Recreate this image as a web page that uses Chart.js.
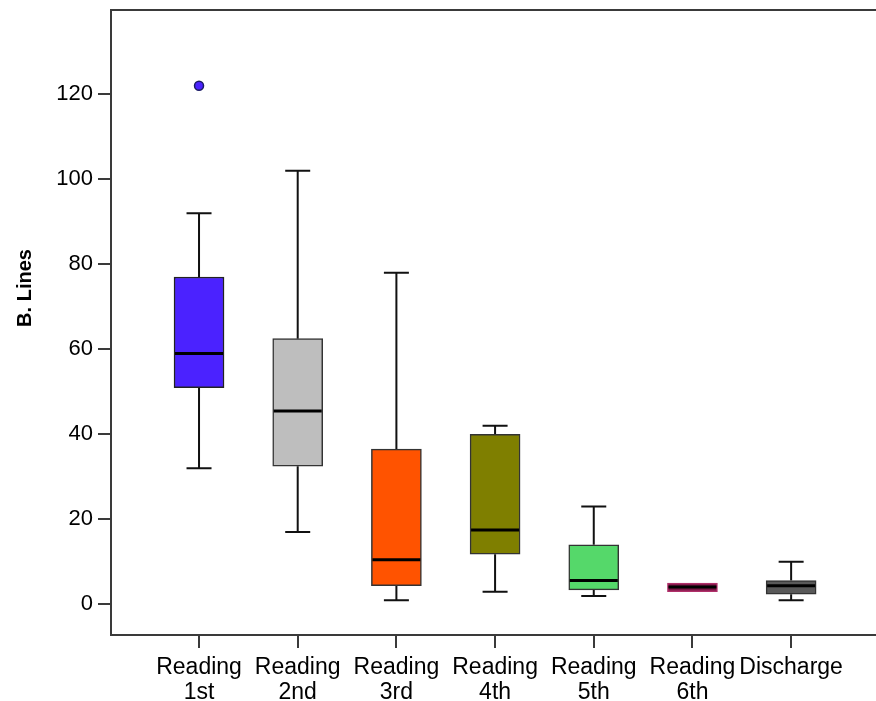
<!DOCTYPE html>
<html>
<head>
<meta charset="utf-8">
<title>B. Lines</title>
<script src="https://cdn.jsdelivr.net/npm/chart.js@4.4.1/dist/chart.umd.min.js"></script>
<style>
  html, body { margin: 0; padding: 0; background: #fff; }
  canvas { display: block; }
</style>
</head>
<body>
<canvas id="chart1" width="876" height="701"></canvas>
<script>
// box plot values
const categories = ["Reading 1st", "Reading 2nd", "Reading 3rd", "Reading 4th", "Reading 5th", "Reading 6th", "Discharge"];
const whiskerLow = [32, 17, 1, 3, 2, 3, 1];
const q1 = [51, 32.5, 4.4, 11.8, 3.4, 3, 2.4];
const median = [59, 45.5, 10.5, 17.5, 5.6, 4.1, 4.4];
const q3 = [77, 62.5, 36.5, 40, 14, 5, 5.6];
const whiskerHigh = [92, 102, 78, 42, 23, 5, 10];
const outliers = [{ x: 0, y: 122 }];
const yTicks = [0, 20, 40, 60, 80, 100, 120];

const boxColors = ["#4b22ff", "#bebebe", "#ff5300", "#7f7f00", "#55d86a", "#7b1545", "#595959"];
const boxBorders = ["#222", "#333", "#333", "#333", "#333", "#b0306a", "#333"];

const axisColor = "#3a3a3a";
const fontFamily = "'Liberation Sans', Arial, sans-serif";
const yTitle = "B. Lines";

// whiskers under the boxes, medians + top frame + y title on top
const boxPlotExtras = {
  id: "boxPlotExtras",
  beforeDatasetsDraw(chart) {
    const { ctx, scales: { x, y } } = chart;
    ctx.save();
    ctx.strokeStyle = "#111";
    ctx.lineWidth = 2;
    categories.forEach((c, i) => {
      const cx = x.getPixelForValue(i);
      const capHalf = 12.5;
      [[q3[i], whiskerHigh[i]], [q1[i], whiskerLow[i]]].forEach(([from, to]) => {
        if (from === to) return;
        const y0 = y.getPixelForValue(from);
        const y1 = y.getPixelForValue(to);
        ctx.beginPath();
        ctx.moveTo(cx, y0);
        ctx.lineTo(cx, y1);
        ctx.moveTo(cx - capHalf, y1);
        ctx.lineTo(cx + capHalf, y1);
        ctx.stroke();
      });
    });
    ctx.restore();
  },
  afterDatasetsDraw(chart) {
    const { ctx, chartArea, scales: { x, y } } = chart;
    ctx.save();
    ctx.strokeStyle = "#000";
    ctx.lineWidth = 3;
    categories.forEach((c, i) => {
      const cx = x.getPixelForValue(i);
      const my = y.getPixelForValue(median[i]);
      ctx.beginPath();
      ctx.moveTo(cx - 24, my);
      ctx.lineTo(cx + 24, my);
      ctx.stroke();
    });
    // top frame line
    ctx.strokeStyle = axisColor;
    ctx.lineWidth = 2;
    ctx.beginPath();
    ctx.moveTo(chartArea.left - 1, chartArea.top);
    ctx.lineTo(chartArea.right, chartArea.top);
    ctx.stroke();

    // y title, sits a bit above the middle like the original
    ctx.translate(25, 288);
    ctx.rotate(-Math.PI / 2);
    ctx.fillStyle = "#000";
    ctx.font = "bold 20px " + fontFamily;
    ctx.textAlign = "center";
    ctx.textBaseline = "middle";
    ctx.fillText(yTitle, 0, 0);
    ctx.restore();
  }
};

const ctx1 = document.getElementById("chart1").getContext("2d");

new Chart(ctx1, {
  type: "bar",
  data: {
    datasets: [
      {
        label: "IQR",
        data: categories.map((c, i) => ({ x: i, y: [q1[i], q3[i]] })),
        backgroundColor: boxColors,
        borderColor: boxBorders,
        borderWidth: 1.5,
        borderSkipped: false,
        barThickness: 50,
        order: 2
      },
      {
        type: "scatter",
        label: "Outliers",
        data: outliers,
        pointRadius: 4.5,
        pointBackgroundColor: "#4b22ff",
        pointBorderColor: "#1a1a66",
        pointBorderWidth: 1.5,
        order: 1
      }
    ]
  },
  options: {
    responsive: false,
    animation: false,
    layout: { autoPadding: false, padding: { top: 10, left: 0, right: 0, bottom: 0 } },
    plugins: {
      legend: { display: false },
      tooltip: { enabled: false }
    },
    scales: {
      x: {
        type: "linear",
        offset: false,
        min: -0.892,
        max: 6.86,
        afterBuildTicks: (scale) => {
          scale.ticks = categories.map((c, i) => ({ value: i }));
        },
        afterFit: (scale) => {
          scale.height = 66;
          scale.paddingLeft = 0;
          scale.paddingRight = 0;
        },
        ticks: {
          color: "#000",
          padding: 8,
          maxRotation: 0,
          autoSkip: false,
          font: { family: fontFamily, size: 23, lineHeight: 1.05 },
          callback: (v) => {
            const c = categories[v];
            return c ? c.split(" ") : "";
          }
        },
        grid: { offset: false, drawOnChartArea: false, tickLength: 13, color: axisColor, lineWidth: 2 },
        border: { color: axisColor, width: 2 }
      },
      y: {
        min: -7.2,
        max: 139.8,
        afterBuildTicks: (scale) => {
          scale.ticks = yTicks.map(v => ({ value: v }));
        },
        afterFit: (scale) => {
          scale.width = 111;
          scale.paddingTop = 0;
          scale.paddingBottom = 0;
        },
        ticks: {
          color: "#000",
          padding: 5,
          font: { family: fontFamily, size: 22 }
        },
        grid: { drawOnChartArea: false, tickLength: 13, color: axisColor, lineWidth: 2 },
        border: { color: axisColor, width: 2 }
      }
    }
  },
  plugins: [boxPlotExtras]
});
</script>
</body>
</html>
